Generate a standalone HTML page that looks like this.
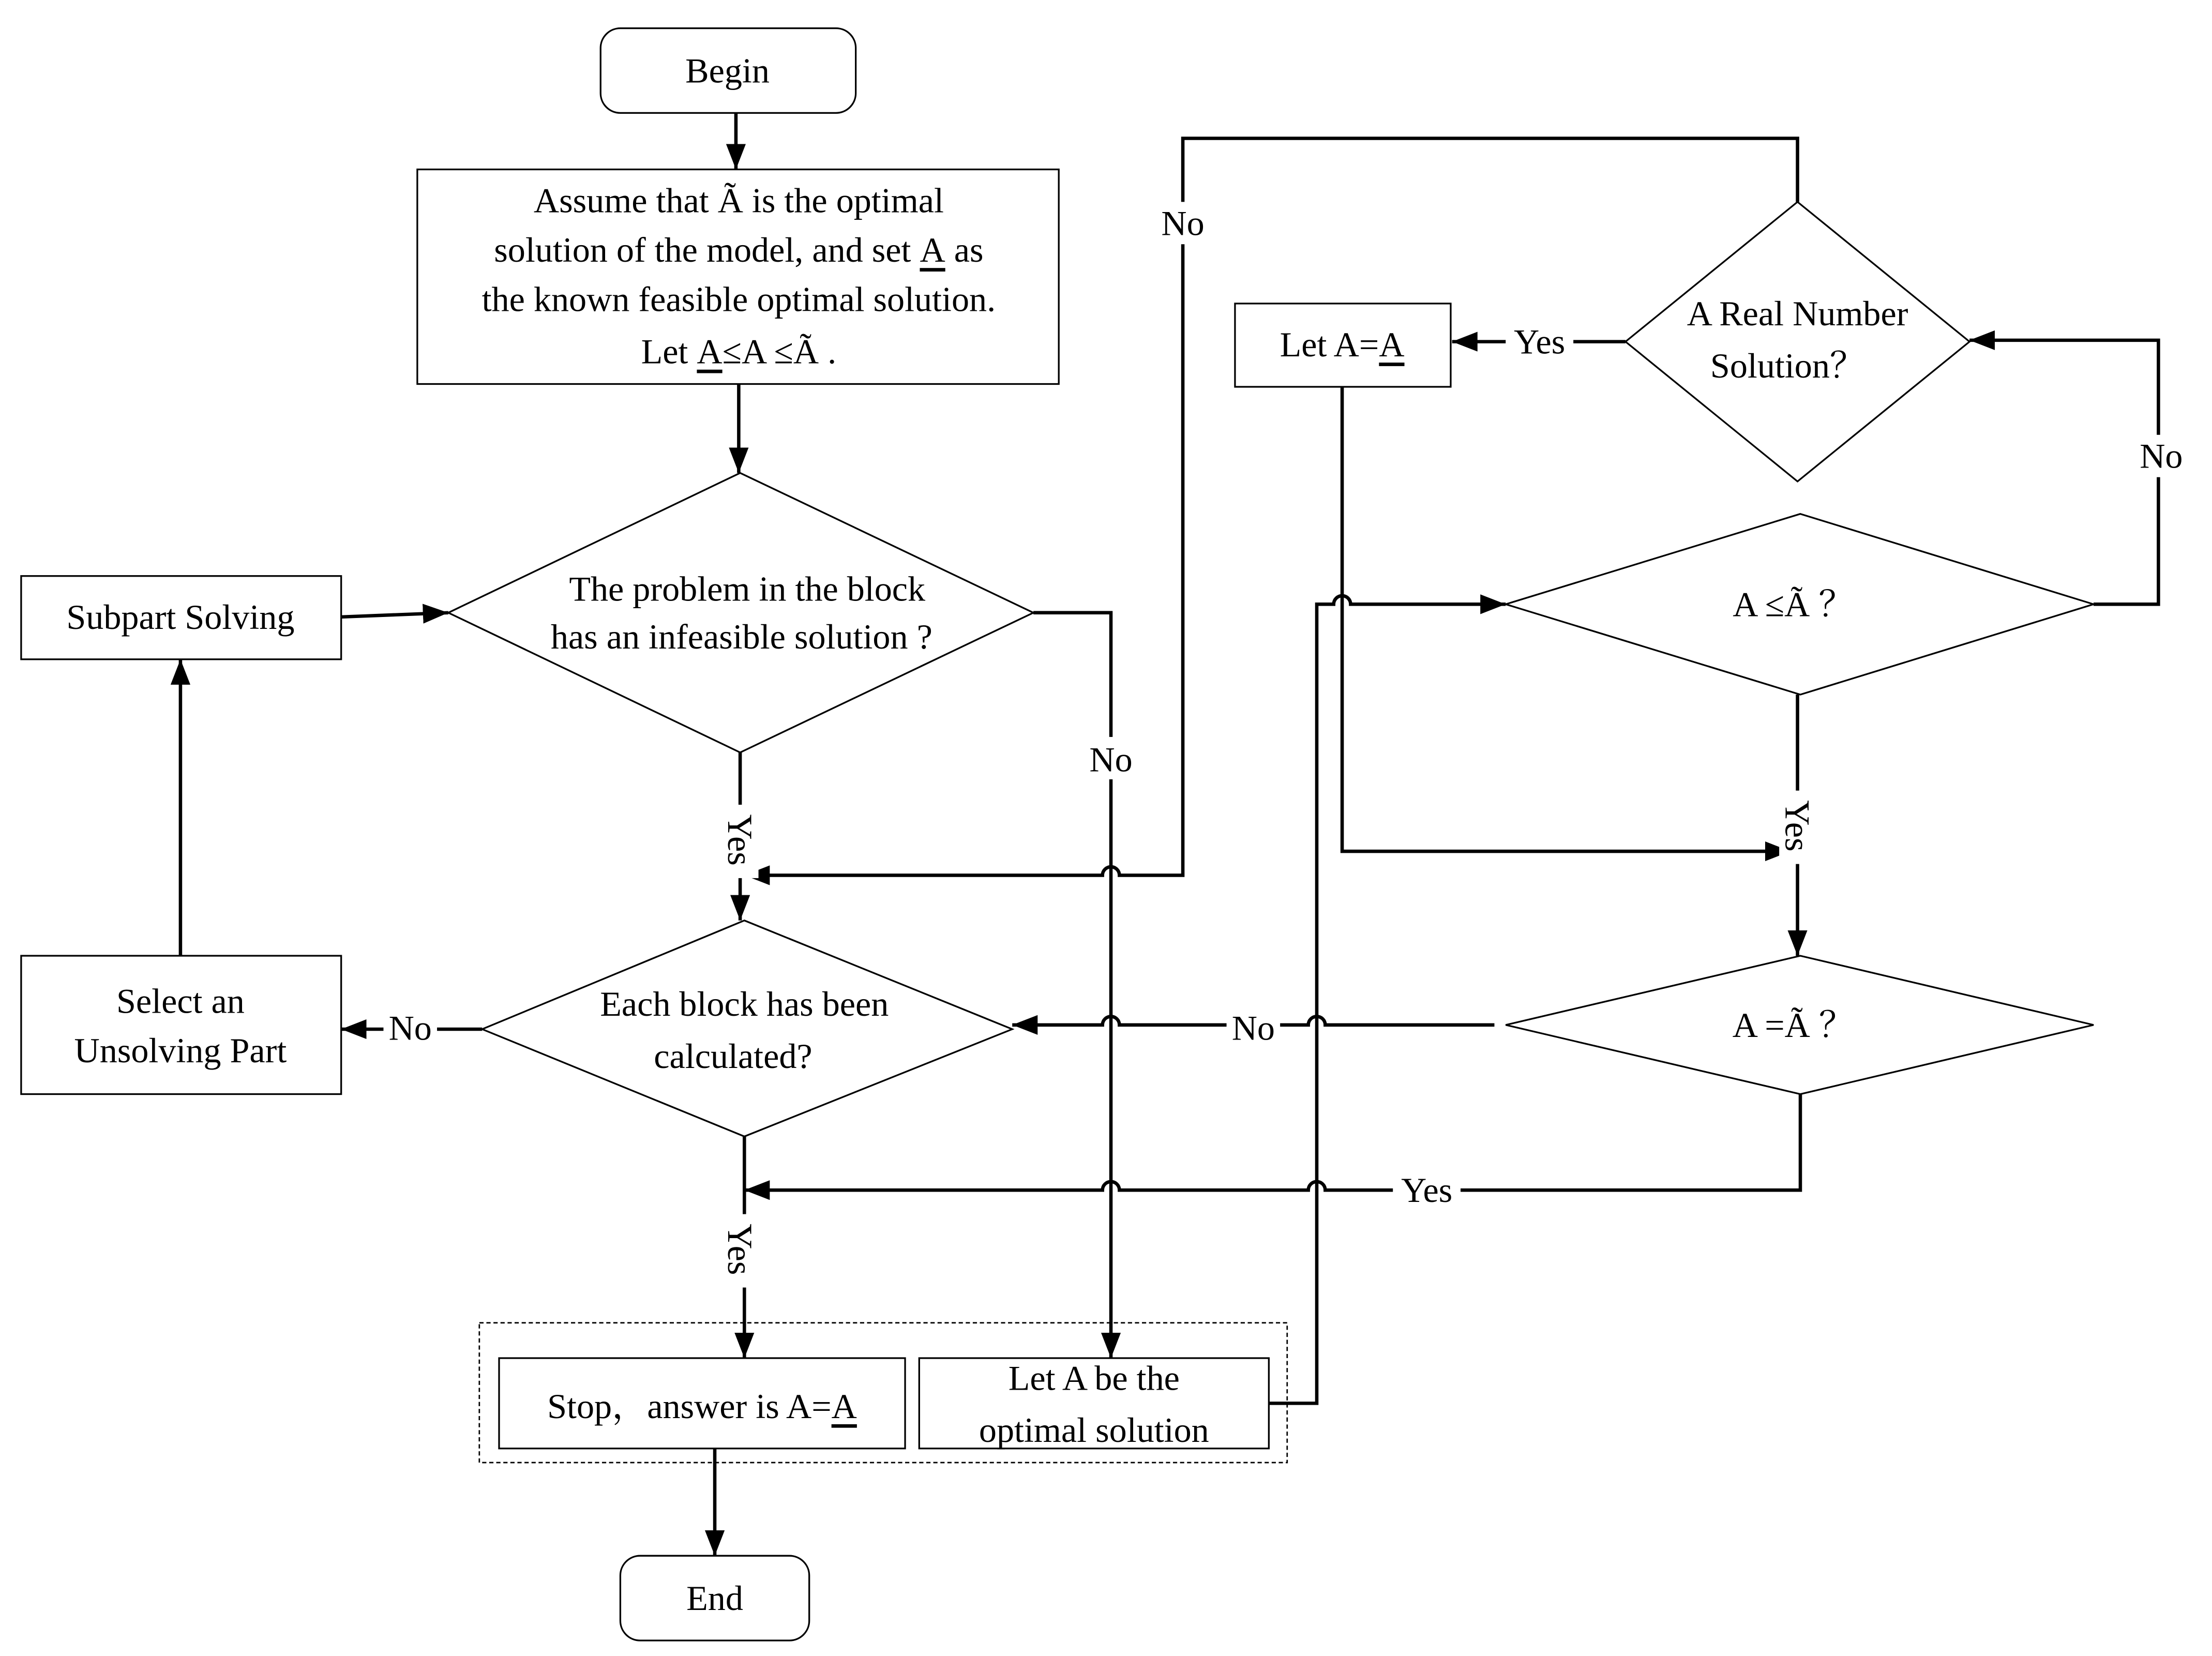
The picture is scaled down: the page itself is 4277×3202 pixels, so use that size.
<!DOCTYPE html>
<html><head><meta charset="utf-8"><style>
html,body{margin:0;padding:0;background:#fff;}
svg{display:block;}
text{font-family:"Liberation Serif","Noto Serif CJK SC",serif;font-size:25px;fill:#000;}
</style></head><body>
<svg width="4277" height="3202" viewBox="0 0 1569 1173" preserveAspectRatio="none" xmlns="http://www.w3.org/2000/svg">
<defs>
<marker id="arb" markerWidth="18" markerHeight="14" refX="18" refY="7" orient="auto" markerUnits="userSpaceOnUse">
<path d="M0,0 L18,7 L0,14 z" fill="#000"/>
</marker>
</defs>
<g fill="none" stroke="#000" stroke-width="1.2">
<rect x="426" y="20" width="181" height="60" rx="14"/>
<rect x="296" y="120" width="455" height="152"/>
<polygon points="525,335 733,434 525,533 318,434"/>
<rect x="15" y="408" width="227" height="59"/>
<polygon points="528,652 718,729 528,805 342,729"/>
<rect x="15" y="677" width="227" height="98"/>
<rect x="340" y="937" width="573" height="99" stroke-dasharray="3,2" stroke-width="1"/>
<rect x="354" y="962" width="288" height="64"/>
<rect x="652" y="962" width="248" height="64"/>
<rect x="440" y="1102" width="134" height="60" rx="14"/>
<polygon points="1277,364 1485,428 1277,492 1068,428"/>
<polygon points="1275,143 1397,242 1275,341 1153,242"/>
<rect x="876" y="215" width="153" height="59"/>
<polygon points="1277,677 1485,726 1277,775 1068,726"/>
</g>
<g fill="none" stroke="#000" stroke-width="2.4">
<line x1="522" y1="80" x2="522" y2="120" marker-end="url(#arb)"/>
<line x1="524" y1="272" x2="524" y2="335" marker-end="url(#arb)"/>
<line x1="242" y1="437" x2="318" y2="434" marker-end="url(#arb)"/>
<path d="M733,434 H788 V962" marker-end="url(#arb)"/>
<line x1="525" y1="533" x2="525" y2="652" marker-end="url(#arb)"/>
<line x1="342" y1="729" x2="242" y2="729" marker-end="url(#arb)"/>
<line x1="128" y1="677" x2="128" y2="467" marker-end="url(#arb)"/>
<line x1="528" y1="805" x2="528" y2="962" marker-end="url(#arb)"/>
<line x1="507" y1="1026" x2="507" y2="1102" marker-end="url(#arb)"/>
<path d="M900,994 H934 V428 H946 a6,6 0 0 1 12,0 H1068" marker-end="url(#arb)"/>
<path d="M1485,428 H1531 V241 H1397" marker-end="url(#arb)"/>
<path d="M1275,143 V98 H839 V620 H794 a6,6 0 0 0 -12,0 H528" marker-end="url(#arb)"/>
<line x1="1153" y1="242" x2="1030" y2="242" marker-end="url(#arb)"/>
<path d="M952,274 V603 H1270" marker-end="url(#arb)"/>
<line x1="1275" y1="492" x2="1275" y2="677" marker-end="url(#arb)"/>
<path d="M1060,726 H940 a6,6 0 0 0 -12,0 H794 a6,6 0 0 0 -12,0 H718" marker-end="url(#arb)"/>
<path d="M1277,775 V843 H940 a6,6 0 0 0 -12,0 H794 a6,6 0 0 0 -12,0 H528" marker-end="url(#arb)"/>
</g>
<g fill="#fff">
<rect x="770" y="522" width="36" height="30"/>
<rect x="820" y="143" width="38" height="30"/>
<rect x="1515" y="308" width="36" height="30"/>
<rect x="1068" y="228" width="48" height="28"/>
<rect x="870" y="714" width="38" height="28"/>
<rect x="272" y="714" width="38" height="28"/>
<rect x="988" y="829" width="48" height="28"/>
<rect x="512" y="570" width="26" height="52"/>
<rect x="512" y="860" width="26" height="52"/>
<rect x="1262" y="560" width="26" height="52"/>
</g>
<g text-anchor="middle" dominant-baseline="central">
<text x="516" y="50">Begin</text>
<text x="524" y="142">Assume that Ã  is the optimal</text>
<text x="524" y="177">solution of the model, and set <tspan text-decoration="underline">A</tspan> as</text>
<text x="524" y="212">the known feasible optimal solution.</text>
<text x="524" y="249">Let <tspan text-decoration="underline">A</tspan>≤A ≤Ã .</text>
<text x="530" y="417">The problem in the block</text>
<text x="526" y="451">has an infeasible solution ?</text>
<text x="128" y="437">Subpart Solving</text>
<text x="528" y="711">Each block has been</text>
<text x="520" y="748">calculated?</text>
<text x="128" y="709">Select an</text>
<text x="128" y="744">Unsolving Part</text>
<text x="498" y="996">Stop，answer is A=<tspan text-decoration="underline">A</tspan></text>
<text x="776" y="976">Let A be the</text>
<text x="776" y="1013">optimal solution</text>
<text x="507" y="1132">End</text>
<text x="1275" y="222">A Real Number</text>
<text x="1268" y="259">Solution？</text>
<text x="952" y="244">Let A=<tspan text-decoration="underline">A</tspan></text>
<text x="1272" y="428">A ≤Ã ？</text>
<text x="1272" y="726">A =Ã ？</text>
<text x="788" y="538">No</text>
<text x="839" y="158">No</text>
<text x="1533" y="323">No</text>
<text x="1092" y="242">Yes</text>
<text x="889" y="728">No</text>
<text x="291" y="728">No</text>
<text x="1012" y="843">Yes</text>
<text x="525" y="595" transform="rotate(90 525 595)">Yes</text>
<text x="525" y="885" transform="rotate(90 525 885)">Yes</text>
<text x="1275" y="585" transform="rotate(90 1275 585)">Yes</text>
</g>
</svg>
</body></html>
